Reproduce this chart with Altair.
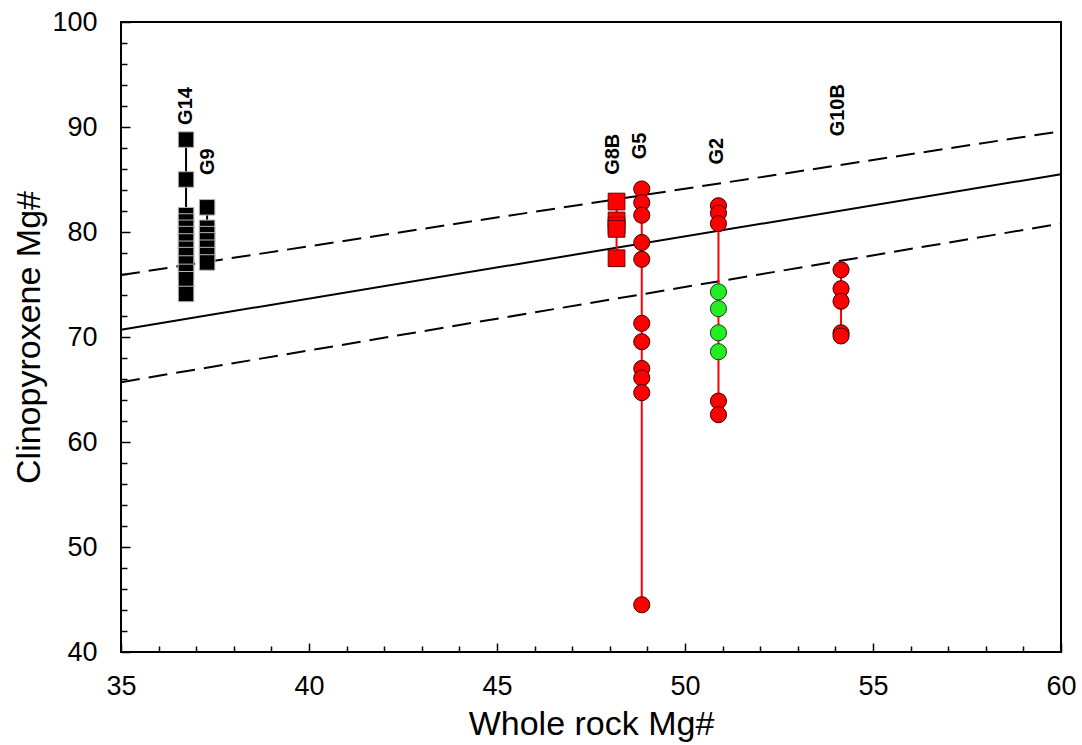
import altair as alt
import pandas as pd

# ---- data ----
samples = ["G14", "G9", "G8B", "G5", "G2", "G10B"]
sample_x = [36.73, 37.29, 48.18, 48.85, 50.89, 54.15]

g14_y = [88.8, 85.0, 81.6, 81.0, 80.4, 79.8, 79.1, 78.4, 77.8, 77.0, 76.2, 75.5, 74.1]
g9_y = [82.35, 80.4, 79.8, 79.2, 78.5, 77.8, 77.1]
g8b_y = [82.9, 81.1, 80.6, 80.3, 77.5]
g5_y = [84.1, 82.8, 81.6, 79.0, 77.4, 71.3, 69.55, 67.0, 66.1, 64.7, 44.5]
g2_red_y = [82.5, 81.8, 80.8, 63.9, 62.6]
g2_green_y = [74.3, 72.7, 70.4, 68.6]
g10b_y = [76.4, 74.6, 73.4, 70.4, 70.1]

label_text = ["G14", "G9", "G8B", "G5", "G2", "G10B"]
label_x = [36.73, 37.31, 48.09, 48.8, 50.84, 54.07]
label_y = [92.0, 86.7, 87.4, 88.2, 87.7, 91.6]

line_x = [35, 60]
solid_y = [70.7, 85.5]
upper_y = [75.9, 89.6]
lower_y = [65.7, 80.8]

major_x = [35, 40, 45, 50, 55, 60]
minor_x = [v for v in range(36, 60) if v % 5 != 0]
major_y = [40, 50, 60, 70, 80, 90, 100]
minor_y = [v for v in range(42, 100, 2) if v % 10 != 0]

# ---- tables ----
rows = []
def add(sample, x, ys, shape, fill, stroke, lc, size):
    for v in ys:
        rows.append(dict(sample=sample, x=x, y=v, shape=shape, fill=fill,
                         stroke=stroke, lc=lc, size=size))

add("G14", sample_x[0], g14_y, "square", "black", "#b5b5b5", "black", 240)
add("G9", sample_x[1], g9_y, "square", "black", "#b5b5b5", "black", 240)
add("G8B", sample_x[2], g8b_y, "square", "#ff0000", "#6e0000", "#ff0000", 280)
add("G5", sample_x[3], g5_y, "circle", "#ff0000", "#3a0000", "#ff0000", 260)
add("G2", sample_x[4], g2_red_y, "circle", "#ff0000", "#3a0000", "#ff0000", 260)
add("G2", sample_x[4], g2_green_y, "circle", "#22ee22", "#1e3a1e", "#ff0000", 260)
add("G10B", sample_x[5], g10b_y, "circle", "#ff0000", "#3a0000", "#ff0000", 260)
pts = pd.DataFrame(rows)

ref = pd.DataFrame(
    [dict(kind="solid", x=line_x[i], y=solid_y[i]) for i in range(2)]
    + [dict(kind="upper", x=line_x[i], y=upper_y[i]) for i in range(2)]
    + [dict(kind="lower", x=line_x[i], y=lower_y[i]) for i in range(2)]
)
labels = pd.DataFrame(dict(t=label_text, x=label_x, y=label_y))

W, H = 940, 630
xs = alt.Scale(domain=[35, 60], nice=False, zero=False)
ys = alt.Scale(domain=[40, 100], nice=False, zero=False)

def tick_axis_x(vals, size):
    return alt.Axis(orient="top", offset=-H, values=vals, labels=False, domain=False,
                    grid=False, ticks=True, tickSize=size, tickWidth=1.5,
                    tickColor="black", title=None)

def tick_axis_y(vals, size):
    return alt.Axis(orient="right", offset=-W, values=vals, labels=False, domain=False,
                    grid=False, ticks=True, tickSize=size, tickWidth=1.5,
                    tickColor="black", title=None)

main_x_axis = alt.Axis(values=major_x, ticks=False, domain=False, grid=False,
                       labelFontSize=27, labelColor="black", labelPadding=21,
                       labelFlush=False, labelOverlap=False, format="d",
                       title="Whole rock Mg#", titleFontSize=34, titleFontWeight="normal",
                       titleColor="black", titleY=82, titleBaseline="alphabetic")
main_y_axis = alt.Axis(values=major_y, ticks=False, domain=False, grid=False,
                       labelFontSize=27, labelColor="black", labelPadding=24,
                       labelFlush=False, labelOverlap=False, format="d",
                       title="Clinopyroxene Mg#", titleFontSize=34, titleFontWeight="normal",
                       titleColor="black", titleX=-82, titleY=H / 2, titleAngle=270,
                       titleAlign="center", titleBaseline="alphabetic")

dashed = alt.Chart(ref).transform_filter(alt.datum.kind != "solid").mark_line(
    color="black", strokeWidth=2, strokeDash=[19, 9]
).encode(
    x=alt.X("x:Q", scale=xs, axis=tick_axis_x(minor_x, 6)),
    y=alt.Y("y:Q", scale=ys, axis=tick_axis_y(minor_y, 6)),
    detail="kind:N",
)

solid = alt.Chart(ref).transform_filter(alt.datum.kind == "solid").mark_line(
    color="black", strokeWidth=2
).encode(
    x=alt.X("x:Q", scale=xs, axis=tick_axis_x(major_x, 9)),
    y=alt.Y("y:Q", scale=ys, axis=tick_axis_y(major_y, 9)),
)

connect = alt.Chart(pts).mark_line(strokeWidth=2).encode(
    x=alt.X("x:Q", scale=xs, axis=main_x_axis),
    y=alt.Y("y:Q", scale=ys, axis=main_y_axis),
    detail="sample:N",
    color=alt.Color("lc:N", scale=None),
    order=alt.Order("y:Q"),
)

squares = alt.Chart(pts).transform_filter(alt.datum.shape == "square").mark_point(
    shape="square", filled=True, strokeWidth=1, opacity=1
).encode(
    x=alt.X("x:Q", scale=xs, axis=None),
    y=alt.Y("y:Q", scale=ys, axis=None),
    fill=alt.Fill("fill:N", scale=None),
    stroke=alt.Stroke("stroke:N", scale=None),
    size=alt.Size("size:Q", scale=None),
)

circles = alt.Chart(pts).transform_filter(alt.datum.shape == "circle").mark_point(
    shape="circle", filled=True, strokeWidth=1, opacity=1
).encode(
    x=alt.X("x:Q", scale=xs, axis=None),
    y=alt.Y("y:Q", scale=ys, axis=None),
    fill=alt.Fill("fill:N", scale=None),
    stroke=alt.Stroke("stroke:N", scale=None),
    size=alt.Size("size:Q", scale=None),
)

text = alt.Chart(labels).mark_text(
    angle=270, align="center", baseline="middle", fontSize=20, fontWeight="bold",
    font="Liberation Sans", color="black"
).encode(
    x=alt.X("x:Q", scale=xs, axis=None),
    y=alt.Y("y:Q", scale=ys, axis=None),
    text="t:N",
)

chart = alt.layer(dashed, solid, connect, squares, circles, text).resolve_axis(
    x="independent", y="independent"
).properties(
    width=W, height=H,
    autosize=alt.AutoSizeParams(type="none"),
    padding={"left": 121, "top": 22, "right": 21, "bottom": 93},
    background="white",
).configure(
    font="Liberation Sans",
).configure_view(
    stroke="black", strokeWidth=2
).configure_axis(
    labelFont="Liberation Sans", titleFont="Liberation Sans"
)

chart.save("out.html", embed_options={"renderer": "svg", "actions": False})
